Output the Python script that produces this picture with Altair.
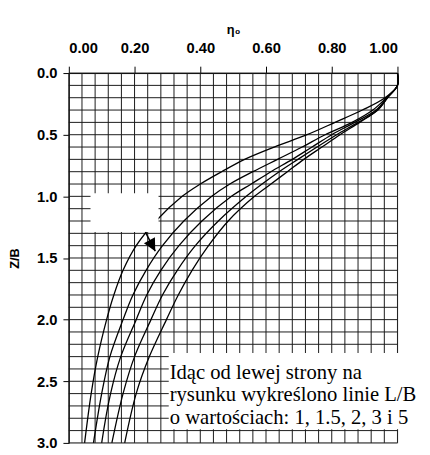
import altair as alt
import pandas as pd

# Z/B depths at which curves were read
z_vals = [0.0, 0.1, 0.2, 0.3, 0.4, 0.5, 0.6, 0.7, 0.8, 0.9, 1.0, 1.2, 1.4, 1.6, 1.8, 2.0, 2.3, 2.6, 3.0]
# eta0 values, one list per L/B
eta_lb1 = [1.0, 1.0, 0.962, 0.893, 0.81, 0.725, 0.625, 0.535, 0.465, 0.40, 0.345, 0.265, 0.205, 0.165, 0.137, 0.115, 0.088, 0.068, 0.048]
eta_lb15 = [1.0, 1.0, 0.966, 0.925, 0.862, 0.78, 0.71, 0.635, 0.56, 0.49, 0.435, 0.35, 0.285, 0.235, 0.195, 0.165, 0.125, 0.10, 0.075]
eta_lb2 = [1.0, 1.0, 0.968, 0.935, 0.87, 0.80, 0.74, 0.68, 0.615, 0.555, 0.495, 0.405, 0.335, 0.28, 0.237, 0.205, 0.158, 0.127, 0.10]
eta_lb3 = [1.0, 1.0, 0.97, 0.94, 0.88, 0.815, 0.755, 0.697, 0.64, 0.588, 0.54, 0.455, 0.385, 0.33, 0.285, 0.25, 0.20, 0.165, 0.131]
eta_lb5 = [1.0, 1.0, 0.97, 0.94, 0.885, 0.825, 0.77, 0.715, 0.665, 0.615, 0.565, 0.485, 0.425, 0.375, 0.333, 0.297, 0.245, 0.205, 0.17]
series_names = ["1", "1.5", "2", "3", "5"]

x_ticks = [0.0, 0.2, 0.4, 0.6, 0.8, 1.0]
y_ticks = [0.0, 0.5, 1.0, 1.5, 2.0, 2.5, 3.0]
x_grid = [round(i * 0.04, 2) for i in range(26)]
y_grid = [round(i * 0.1, 1) for i in range(31)]

# white cover boxes (data units)
box_x1 = [0.066, 0.304]
box_x2 = [0.273, 1.08]
box_y1 = [0.975, 2.27]
box_y2 = [1.29, 2.89]

# arrow
arrow_x = [0.233]
arrow_x2 = [0.263]
arrow_y = [1.29]
arrow_y2 = [1.445]

note_lines = ["Idąc od lewej strony na", "rysunku wykreślono linie L/B", "o wartościach: 1, 1.5, 2, 3 i 5"]
note_x = [0.307, 0.307, 0.307]
note_y = [2.43, 2.612, 2.795]

rows = []
for name, etas in zip(series_names, [eta_lb1, eta_lb15, eta_lb2, eta_lb3, eta_lb5]):
    for z, e in zip(z_vals, etas):
        rows.append({"lb": name, "z": z, "eta": e})
curves = pd.DataFrame(rows)

xs = alt.Scale(domain=[0, 1], nice=False)
ys = alt.Scale(domain=[0, 3], reverse=True, nice=False)

FONT = "Liberation Sans"

x_axis = alt.Axis(
    orient="top", values=x_ticks, format=".2f", title="η₀", grid=False,
    labelFont=FONT, labelFontSize=15, labelFontWeight="bold", labelColor="black",
    labelPadding=11, tickSize=7, tickColor="black", domainColor="black",
    titleFont=FONT, titleFontSize=13, titleFontWeight="bold", titleColor="black", titlePadding=4)
y_axis = alt.Axis(
    values=y_ticks, format=".1f", title="Z/B", grid=False,
    labelFont=FONT, labelFontSize=15, labelFontWeight="bold", labelColor="black",
    labelPadding=6, tickSize=6, tickColor="black", domainColor="black",
    titleFont=FONT, titleFontSize=13, titleFontWeight="bold", titleColor="black", titlePadding=15)

vgrid = alt.Chart(pd.DataFrame({"g": x_grid})).mark_rule(color="#1a1a1a", strokeWidth=1).encode(
    x=alt.X("g:Q", scale=xs, axis=x_axis))
hgrid = alt.Chart(pd.DataFrame({"g": y_grid})).mark_rule(color="#1a1a1a", strokeWidth=1).encode(
    y=alt.Y("g:Q", scale=ys, axis=y_axis))

lines = alt.Chart(curves).mark_line(color="black", strokeWidth=1.3, interpolate="catmull-rom").encode(
    x=alt.X("eta:Q", scale=xs, axis=x_axis), y=alt.Y("z:Q", scale=ys, axis=y_axis),
    detail="lb:N", order="z:Q")

boxes = alt.Chart(pd.DataFrame({"x1": box_x1, "x2": box_x2, "y1": box_y1, "y2": box_y2})).mark_rect(
    fill="white", clip=False).encode(
    x=alt.X("x1:Q", scale=xs, axis=x_axis), x2="x2:Q",
    y=alt.Y("y1:Q", scale=ys, axis=y_axis), y2="y2:Q")

arrow = alt.Chart(pd.DataFrame({"x": arrow_x, "x2": arrow_x2, "y": arrow_y, "y2": arrow_y2})).mark_rule(
    color="black", strokeWidth=1.5).encode(
    x=alt.X("x:Q", scale=xs, axis=x_axis), x2="x2:Q",
    y=alt.Y("y:Q", scale=ys, axis=y_axis), y2="y2:Q")
head = alt.Chart(pd.DataFrame({"x": arrow_x2, "y": arrow_y2})).mark_point(
    shape="M-1,-2L1,-2L0,0Z", filled=True, color="black", opacity=1, size=160, angle=332).encode(
    x=alt.X("x:Q", scale=xs, axis=x_axis), y=alt.Y("y:Q", scale=ys, axis=y_axis))

note = alt.Chart(pd.DataFrame({"t": note_lines, "x": note_x, "y": note_y})).mark_text(
    align="left", baseline="middle", font="Liberation Serif", fontSize=21, color="black").encode(
    x=alt.X("x:Q", scale=xs, axis=x_axis), y=alt.Y("y:Q", scale=ys, axis=y_axis), text="t:N")

chart = alt.layer(vgrid, hgrid, lines, boxes, arrow, head, note).properties(
    width=335, height=377,
    autosize=alt.AutoSizeParams(type="none"),
    padding={"left": 62, "top": 62, "right": 25, "bottom": 8},
).configure_view(stroke=None).configure(background="white")

chart.save("out.html", embed_options={"renderer": "svg", "actions": False})
